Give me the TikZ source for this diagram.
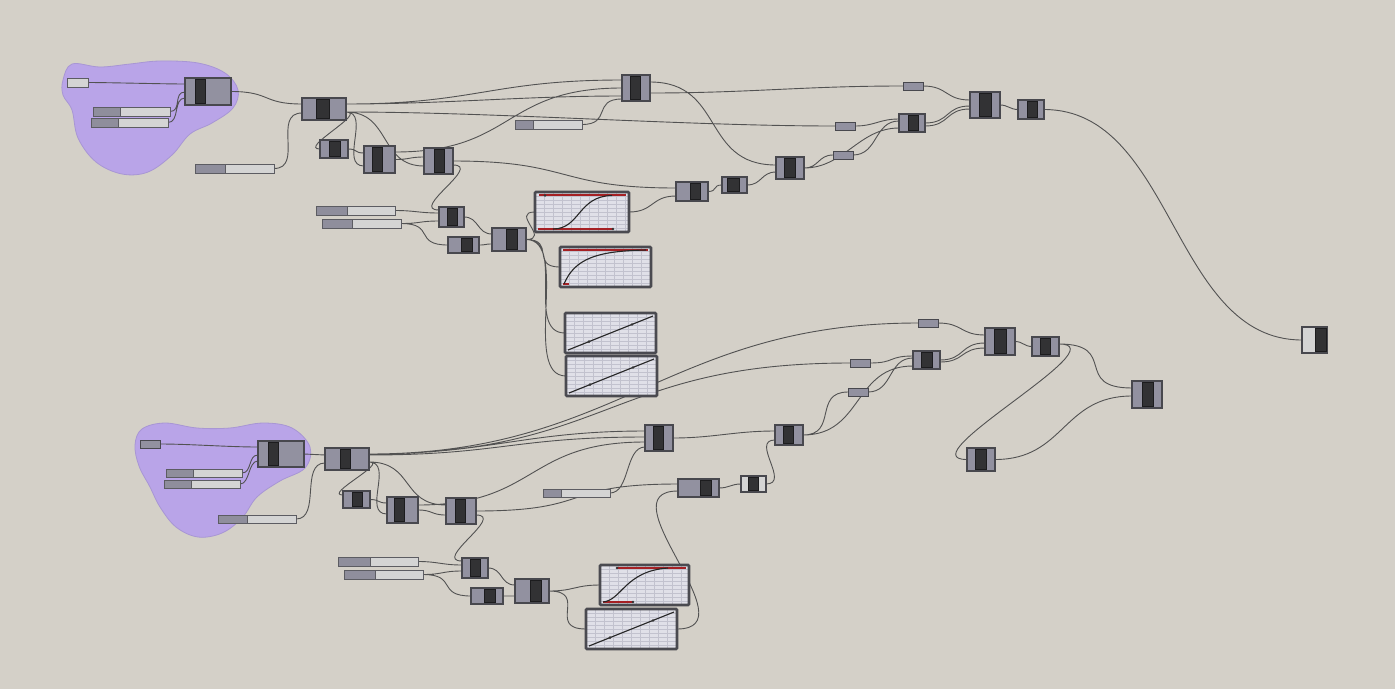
\documentclass[tikz,border=0pt]{standalone}
\usetikzlibrary{calc}
\definecolor{bgc}{RGB}{212,208,200}
\definecolor{blobf}{RGB}{185,164,232}
\definecolor{blobd}{RGB}{168,150,212}
\definecolor{compf}{RGB}{146,145,160}
\definecolor{compb}{RGB}{72,72,78}
\definecolor{barf}{RGB}{50,50,52}
\definecolor{barb}{RGB}{28,28,30}
\definecolor{sldl}{RGB}{212,212,212}
\definecolor{sldd}{RGB}{143,142,156}
\definecolor{sldb}{RGB}{92,92,98}
\definecolor{grf}{RGB}{224,224,232}
\definecolor{grl}{RGB}{194,194,206}
\definecolor{grb}{RGB}{74,74,80}
\definecolor{redl}{RGB}{165,32,36}
\definecolor{wirec}{RGB}{82,82,82}
\pgfdeclarelayer{blobl}
\pgfdeclarelayer{wirel}
\pgfsetlayers{blobl,wirel,main}
\tikzset{
  comp/.style={rectangle,draw=compb,fill=compf,line width=1.1pt,inner sep=0pt,outer sep=0pt},
  barst/.style={fill=barf,draw=barb,line width=0.7pt},
  sld/.style={rectangle,draw=sldb,fill=sldl,line width=1pt,inner sep=0pt,outer sep=0pt},
  slddark/.style={fill=sldd,draw=sldb,line width=1pt},
  prm/.style={rectangle,draw=compb,fill=compf,line width=1pt,inner sep=0pt,outer sep=0pt},
  grbg/.style={rectangle,fill=grf,inner sep=0pt,outer sep=0pt},
  grbord/.style={draw=grb,line width=2.6pt,rounded corners=1pt},
  grcurve/.style={draw=black!85,line width=1.1pt},
  grred/.style={draw=redl,line width=1.6pt},
  blobst/.style={fill=blobf,draw=blobd,line width=0.8pt},
  wl/.style={draw=wirec,line width=0.9pt},
  gw/.style={to path={.. controls +(#1,0) and +(-#1,0) .. (\tikztotarget)}},
  gw/.default=30
}
\newcommand\gcomp[8][]{%
  \node[comp,#1,minimum width={(#5-#3)*1pt},minimum height={(#6-#4)*1pt}] (#2) at ({(#3+#5)/2},{(#4+#6)/2}) {};
  \filldraw[barst] (#7,{#4+1.5}) rectangle (#8,{#6-1.5});}
\newcommand\gslider[6]{%
  \node[sld,minimum width={(#4-#2)*1pt},minimum height={(#5-#3)*1pt}] (#1) at ({(#2+#4)/2},{(#3+#5)/2}) {};
  \filldraw[slddark] (#2,#3) rectangle (#6,#5);}
\newcommand\gparam[6][]{%
  \node[prm,#1,minimum width={(#5-#3)*1pt},minimum height={(#6-#4)*1pt}] (#2) at ({(#3+#5)/2},{(#4+#6)/2}) {};}
\newcommand\ggraph[5]{%
  \node[grbg,minimum width={(#4-#2)*1pt},minimum height={(#5-#3)*1pt}] (#1) at ({(#2+#4)/2},{(#3+#5)/2}) {};
  \begin{scope}
    \clip (#2,#3) rectangle (#4,#5);
    \foreach \gx in {0,9,...,99} {\draw[grl,line width=0.5pt] ({#2+\gx},#3) -- ({#2+\gx},#5);}
    \foreach \gy in {0,4,...,40} {\draw[grl,line width=0.4pt] (#2,{#3+\gy}) -- (#4,{#3+\gy});}
  \end{scope}
  \draw[grbord] (#2,#3) rectangle (#4,#5);}
\begin{document}
\begin{tikzpicture}[x=1pt,y=-1pt]
\useasboundingbox (0,0) rectangle (1395,689);
\begin{pgfonlayer}{blobl}
  \fill[bgc] (0,0) rectangle (1395,689);
  \draw[blobst] plot[smooth cycle,tension=0.6] coordinates {(63,80) (72,64) (100,67) (130,64) (160,61) (198,63) (225,73) (238,90) (233,108) (212,123) (190,134) (172,155) (148,172) (122,174) (96,162) (78,138) (72,110) (63,95)};
  \draw[blobst] plot[smooth cycle,tension=0.6] coordinates {(135,445) (142,429) (165,423) (197,428) (230,428) (263,423) (292,428) (310,447) (305,468) (280,481) (257,497) (242,518) (222,533) (198,537) (176,527) (160,507) (150,487) (139,466)};
\end{pgfonlayer}

% ---------- top cluster ----------
\gparam[fill=sldl,draw=sldb]{pan}{67}{78}{88}{87}
\gcomp{A1}{185}{78}{231}{105}{195}{205}
\gslider{s1}{93}{107}{170}{116}{120}
\gslider{s2}{91}{118}{168}{127}{118}
\gslider{s3}{195}{164}{274}{173}{225}
\gcomp{B1}{302}{98}{346}{120}{316}{329}
\gcomp{C1}{320}{140}{348}{158}{329}{340}
\gcomp{C2}{364}{146}{395}{173}{372}{382}
\gcomp{C3}{424}{148}{453}{174}{434}{444}
\gcomp{D}{622}{75}{650}{101}{630}{640}
\gslider{s4}{515}{120}{582}{129}{533}
\gparam{p1}{903}{82}{923}{90}
\gparam{p2}{835}{122}{855}{130}
\gparam{p3}{833}{151}{853}{159}
\gcomp{E1}{899}{114}{925}{132}{908}{918}
\gcomp{E2}{970}{92}{1000}{118}{979}{991}
\gcomp{E3}{1018}{100}{1044}{119}{1027}{1037}
\gcomp{F1}{776}{157}{804}{179}{784}{795}
\gcomp{F2}{722}{177}{747}{193}{727}{739}
\gcomp{F3}{676}{182}{708}{201}{690}{700}
\gslider{s5}{316}{206}{395}{215}{347}
\gslider{s6}{322}{219}{401}{228}{352}
\gcomp{G1}{439}{207}{464}{227}{447}{457}
\gcomp{G2}{448}{237}{479}{253}{461}{472}
\gcomp{G3}{492}{228}{526}{251}{506}{517}
\gcomp[fill=sldl]{H}{1302}{327}{1327}{353}{1315}{1326}

\ggraph{g1}{535}{192}{629}{232}
\draw[grred] (539,195) -- (626,195);
\draw[grred] (538,229) -- (613,229);
\draw[grcurve] (553,229) .. controls (580,229) and (578,196) .. (612,195.5);
\fill[black!80] (545,195.5) circle (1.3) (613,229) circle (1.3);
\ggraph{g2}{560}{247}{651}{287}
\draw[grred] (563,250) -- (648,250);
\draw[grred] (563,284) -- (569,284);
\draw[grcurve] (564,284) .. controls (575,258) and (598,251) .. (646,250);
\ggraph{g3}{565}{313}{656}{353}
\draw[grcurve] (568,350) -- (653,316);
\fill[black!80] (589,341.6) circle (1.4) (632,324.4) circle (1.4);
\ggraph{g4}{566}{356}{657}{396}
\draw[grcurve] (569,393) -- (654,359);
\fill[black!80] (590,384.6) circle (1.4) (633,367.4) circle (1.4);

% ---------- bottom cluster ----------
\gparam{q0}{140}{440}{160}{448}
\gcomp{A2}{258}{441}{304}{467}{268}{278}
\gslider{t1}{166}{469}{242}{477}{193}
\gslider{t2}{164}{480}{240}{488}{191}
\gslider{t3}{218}{515}{296}{523}{247}
\gcomp{B2}{325}{448}{369}{470}{340}{350}
\gcomp{C4}{343}{491}{370}{508}{352}{362}
\gcomp{C5}{387}{497}{418}{523}{394}{404}
\gcomp{C6}{446}{498}{476}{524}{455}{465}
\gcomp{D2}{645}{425}{673}{451}{653}{663}
\gcomp{D3}{775}{425}{803}{445}{783}{793}
\gslider{t4}{543}{489}{610}{497}{561}
\gcomp{K1}{678}{479}{719}{497}{700}{711}
\gcomp[fill=sldl]{K2}{741}{476}{766}{492}{748}{758}
\gparam{p4}{918}{319}{938}{327}
\gparam{p5}{850}{359}{870}{367}
\gparam{p6}{848}{388}{868}{396}
\gcomp{M1}{913}{351}{940}{369}{921}{932}
\gcomp{M2}{985}{328}{1015}{355}{994}{1006}
\gcomp{M3}{1032}{337}{1059}{356}{1040}{1050}
\gcomp{M4}{1132}{381}{1162}{408}{1142}{1153}
\gcomp{M5}{967}{448}{995}{471}{975}{986}
\gslider{t5}{338}{557}{418}{566}{370}
\gslider{t6}{344}{570}{423}{579}{375}
\gcomp{N1}{462}{558}{488}{578}{470}{480}
\gcomp{N2}{471}{588}{503}{604}{484}{495}
\gcomp{N3}{515}{579}{549}{603}{530}{541}

\ggraph{g5}{600}{565}{689}{605}
\draw[grred] (617,568) -- (686,568);
\draw[grred] (603,602) -- (633,602);
\draw[grcurve] (603,602) .. controls (622,600) and (625,571) .. (668,568);
\fill[black!80] (617,568) circle (1.3) (633,602) circle (1.3);
\ggraph{g6}{586}{609}{677}{649}
\draw[grcurve] (589,646) -- (674,612);
\fill[black!80] (610,637.6) circle (1.4) (653,620.4) circle (1.4);

% ---------- wires ----------
\begin{pgfonlayer}{wirel}
\path[wl]
  (pan.east) to[gw=20] ([yshift=7.5pt]A1.west)
  (s1.east) to[gw=12] ([yshift=-0.5pt]A1.west)
  (s2.east) to[gw=12] ([yshift=-6.5pt]A1.west)
  (A1.east) to[gw=40] ([yshift=5pt]B1.west)
  (s3.east) to[gw=30] ([yshift=-4pt]B1.west)
  ([yshift=5pt]B1.east) to[gw=130] ([yshift=8pt]D.west)
  ([yshift=5pt]B1.east) to[gw=100] ([yshift=-8pt]D.west)
  ([yshift=-3pt]B1.east) to[gw=150] (p2.west)
  ([yshift=-3pt]B1.east) to[gw=22] (C1.west)
  ([yshift=-3pt]B1.east) to[gw=25] ([yshift=-6.5pt]C2.west)
  ([yshift=-3pt]B1.east) to[gw=45] ([yshift=-5pt]C3.west)
  (C1.east) to[gw=10] ([yshift=6.5pt]C2.west)
  (C2.east) to[gw=15] ([yshift=4pt]C3.west)
  ([yshift=7.5pt]C2.east) to[gw=120] (D.west)
  (s4.east) to[gw=30] ([yshift=-11pt]D.west)
  ([yshift=6pt]D.east) to[gw=75] ([yshift=3pt]F1.west)
  ([yshift=-5pt]D.east) to[gw=100] (p1.west)
  (C3.east) to[gw=120] ([yshift=3.5pt]F3.west)
  ([yshift=-4pt]C3.east) to[gw=30] ([yshift=7pt]G1.west)
  (s5.east) to[gw=20] ([yshift=4pt]G1.west)
  (s6.east) to[gw=20] ([yshift=-4pt]G1.west)
  (s6.east) to[gw=35] (G2.west)
  (G1.east) to[gw=15] ([yshift=5.5pt]G3.west)
  (G2.east) to[gw=8] ([yshift=-4.5pt]G3.west)
  (G3.east) to[gw=25] (g1.west)
  (G3.east) to[gw=30] (g2.west)
  (G3.east) to[gw=40] (g3.west)
  (G3.east) to[gw=45] (g4.west)
  (g1.east) to[gw=25] ([yshift=-4.5pt]F3.west)
  (F3.east) to[gw=10] (F2.west)
  (F2.east) to[gw=15] ([yshift=-4pt]F1.west)
  (F1.east) to[gw=15] (p3.west)
  (F1.east) to[gw=40] ([yshift=-5pt]E1.west)
  (p2.east) to[gw=20] ([yshift=4pt]E1.west)
  (p3.east) to[gw=25] ([yshift=2pt]E1.west)
  (E1.east) to[gw=25] ([yshift=-1pt]E2.west)
  ([yshift=-3pt]E1.east) to[gw=25] ([yshift=-4pt]E2.west)
  (p1.east) to[gw=25] ([yshift=5pt]E2.west)
  (E2.east) to[gw=8] (E3.west)
  (E3.east) to[gw=130] (H.west)
  % bottom
  (q0.east) to[gw=30] ([yshift=7pt]A2.west)
  (t1.east) to[gw=10] ([yshift=-1pt]A2.west)
  (t2.east) to[gw=10] ([yshift=-7pt]A2.west)
  (A2.east) to[gw=10] ([yshift=4pt]B2.west)
  (t3.east) to[gw=25] ([yshift=-4pt]B2.west)
  ([yshift=5pt]B2.east) to[gw=250] (p4.west)
  ([yshift=5pt]B2.east) to[gw=240] (p5.west)
  ([yshift=5pt]B2.east) to[gw=120] ([yshift=7pt]D2.west)
  ([yshift=4pt]B2.east) to[gw=130] ([yshift=1pt]D2.west)
  ([yshift=-3pt]B2.east) to[gw=20] ([yshift=4.5pt]C4.west)
  ([yshift=-3pt]B2.east) to[gw=25] ([yshift=-4pt]C5.west)
  ([yshift=-3pt]B2.east) to[gw=45] ([yshift=6pt]C6.west)
  (C4.east) to[gw=10] ([yshift=7pt]C5.west)
  (C5.east) to[gw=15] ([yshift=-4pt]C6.west)
  ([yshift=5pt]C5.east) to[gw=120] ([yshift=-4pt]D2.west)
  (C6.east) to[gw=120] ([yshift=4pt]K1.west)
  ([yshift=-4pt]C6.east) to[gw=30] ([yshift=7pt]N1.west)
  (t4.east) to[gw=20] ([yshift=-9pt]D2.west)
  (g6.east) to[gw=75] ([yshift=-3pt]K1.west)
  (K1.east) to[gw=10] (K2.west)
  (K2.east) to[gw=25] ([yshift=-5pt]D3.west)
  (D2.east) to[gw=40] ([yshift=4pt]D3.west)
  (D3.east) to[gw=35] (p6.west)
  (D3.east) to[gw=60] ([yshift=-6pt]M1.west)
  (p4.east) to[gw=25] ([yshift=6.5pt]M2.west)
  (p5.east) to[gw=25] ([yshift=4pt]M1.west)
  (p6.east) to[gw=25] ([yshift=2pt]M1.west)
  (M1.east) to[gw=25] ([yshift=-1.5pt]M2.west)
  ([yshift=-2pt]M1.east) to[gw=25] ([yshift=-6.5pt]M2.west)
  (M2.east) to[gw=8] (M3.west)
  ([yshift=2.5pt]M3.east) to[gw=60] ([yshift=6.5pt]M4.west)
  ([yshift=2.5pt]M3.east) to[gw=62] (M5.west)
  (M5.east) to[gw=70] ([yshift=-1.5pt]M4.west)
  (t5.east) to[gw=20] ([yshift=3pt]N1.west)
  (t6.east) to[gw=20] ([yshift=-3pt]N1.west)
  (t6.east) to[gw=35] (N2.west)
  (N1.east) to[gw=15] ([yshift=6pt]N3.west)
  (N2.east) to[gw=8] ([yshift=-5pt]N3.west)
  (N3.east) to[gw=25] (g5.west)
  (N3.east) to[gw=40] (g6.west);
\end{pgfonlayer}
\end{tikzpicture}
\end{document}
